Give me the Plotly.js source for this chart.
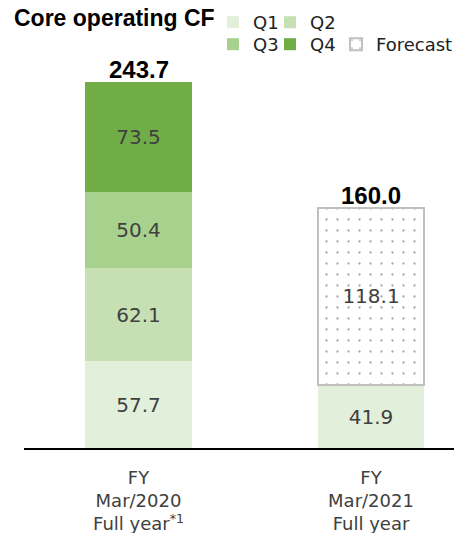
<!DOCTYPE html>
<html><head><meta charset="utf-8">
<script src="https://cdn.plot.ly/plotly-3.0.1.min.js"></script>
<style>html,body{margin:0;padding:0;background:#fff}#chart{width:454px;height:533px}</style>
</head><body><div id="chart"></div>
<script>
const categories = ['FY<br>Mar/2020<br>Full year<sup>*1</sup>', 'FY<br>Mar/2021<br>Full year'];
const q1 = [57.7, 41.9];
const q2 = [62.1, null];
const q3 = [50.4, null];
const q4 = [73.5, null];
const forecast = [null, 118.1];
const seriesNames = ['Q1', 'Q2', 'Q3', 'Q4', 'Forecast'];
const seriesColors = ['#E2EFDA', '#C6E0B4', '#A9D18E', '#70AD47'];

const allSeries = [q1, q2, q3, q4, forecast];
const totals = categories.map((c, i) => allSeries.reduce((s, arr) => s + (arr[i] == null ? 0 : arr[i]), 0));

const labelFont = {family: 'DejaVu Sans', size: 20, color: '#404040'};

function barTrace(name, vals, marker, legend) {
  return {
    type: 'bar', name: name, x: categories, y: vals, width: 0.46,
    marker: marker,
    texttemplate: '%{y:.1f}',
    textposition: 'inside', insidetextanchor: 'middle', textangle: 0,
    constraintext: 'none',
    textfont: labelFont, legend: legend, hoverinfo: 'skip'
  };
}

const traces = [
  barTrace(seriesNames[0], q1, {color: seriesColors[0], line: {width: 0}}, 'legend'),
  barTrace(seriesNames[1], q2, {color: seriesColors[1], line: {width: 0}}, 'legend2'),
  barTrace(seriesNames[2], q3, {color: seriesColors[2], line: {width: 0}}, 'legend3'),
  barTrace(seriesNames[3], q4, {color: seriesColors[3], line: {width: 0}}, 'legend4'),
  barTrace(seriesNames[4], forecast, {
    color: '#ffffff',
    pattern: {shape: '.', fgcolor: '#A8A8A8', bgcolor: '#ffffff', size: 11, solidity: 0.035},
    line: {color: '#C0C0C0', width: 2}
  }, 'legend5')
];

function legendAt(xpx, ypx) {
  return {
    orientation: 'h', xref: 'container', yref: 'container',
    xanchor: 'left', yanchor: 'top', x: xpx / 454, y: 1 - ypx / 533,
    font: {family: 'DejaVu Sans', size: 18, color: '#222'},
    traceorder: 'normal', bgcolor: 'rgba(0,0,0,0)', borderwidth: 0
  };
}

const layout = {
  width: 454, height: 533,
  margin: {l: 24, r: 0, t: 60, b: 85, autoexpand: false},
  paper_bgcolor: '#ffffff', plot_bgcolor: '#ffffff',
  barmode: 'stack',
  title: {
    text: '<b>Core operating CF</b>',
    font: {family: 'Liberation Sans, Arial', size: 23, color: '#000'},
    xref: 'container', yref: 'container', x: 14 / 454, xanchor: 'left',
    y: 1 - 18 / 533, yanchor: 'middle'
  },
  xaxis: {
    type: 'category', range: [-0.4925, 1.357],
    showline: true, linecolor: '#000', linewidth: 2, ticks: '',
    tickfont: {family: 'DejaVu Sans', size: 18, color: '#404040'},
    ticklabelstandoff: 12,
    showgrid: false, zeroline: false, fixedrange: true
  },
  yaxis: {range: [0, 258.3], visible: false, fixedrange: true},
  legend: legendAt(213, 4),
  legend2: legendAt(270, 4),
  legend3: legendAt(213, 26),
  legend4: legendAt(270, 26),
  legend5: legendAt(336, 26),
  annotations: categories.map((c, i) => ({
    x: c, y: totals[i], xref: 'x', yref: 'y',
    text: '<b>' + totals[i].toFixed(1) + '</b>',
    showarrow: false, yanchor: 'bottom', yshift: -3,
    font: {family: 'Liberation Sans, Arial', size: 24, color: '#000'}
  })),
  showlegend: true
};

Plotly.newPlot('chart', traces, layout, {displayModeBar: false, staticPlot: true});
</script>
</body></html>
